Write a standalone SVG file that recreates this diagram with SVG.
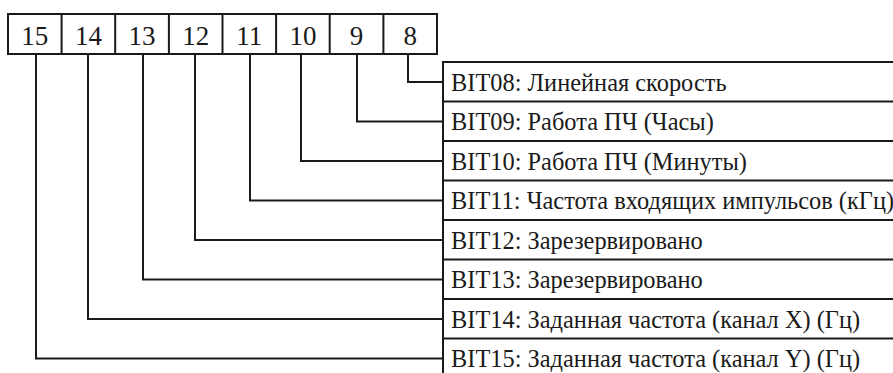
<svg xmlns="http://www.w3.org/2000/svg" width="893" height="373" viewBox="0 0 893 373">
<style>
.box{fill:#fff;stroke:#1a1a1a;stroke-width:2}
.ln{fill:none;stroke:#1a1a1a;stroke-width:2}
.num{font-family:"Liberation Serif","Times New Roman",serif;font-size:27px;fill:#1a1a1a;text-anchor:middle}
.lbl{font-family:"Liberation Serif","Times New Roman",serif;font-size:24.4px;fill:#1a1a1a}
</style>
<rect width="893" height="373" fill="#fff"/>
<g id="register">
<rect class="box" x="8" y="14" width="429" height="40"/>
<path class="ln" d="M61.6 14V54M115.2 14V54M168.9 14V54M222.5 14V54M276.1 14V54M329.7 14V54M383.4 14V54"/>
<text class="num" x="34.8" y="45">15</text>
<text class="num" x="88.4" y="45">14</text>
<text class="num" x="142.1" y="45">13</text>
<text class="num" x="195.7" y="45">12</text>
<text class="num" x="249.3" y="45">11</text>
<text class="num" x="302.9" y="45">10</text>
<text class="num" x="356.6" y="45">9</text>
<text class="num" x="410.2" y="45">8</text>
</g>
<g id="table">
<rect class="box" x="443" y="62" width="460" height="316"/>
<path class="ln" d="M443 101.5H900M443 141H900M443 180.5H900M443 220H900M443 259.5H900M443 299H900M443 338.5H900"/>
</g>
<g id="bit08"><text class="lbl" x="451" y="90.5">BIT08: Линейная скорость</text></g>
<g id="bit09"><text class="lbl" x="451" y="130">BIT09: Работа ПЧ (Часы)</text></g>
<g id="bit10"><text class="lbl" x="451" y="169.5">BIT10: Работа ПЧ (Минуты)</text></g>
<g id="bit11"><text class="lbl" x="451" y="209">BIT11: Частота входящих импульсов (кГц)</text></g>
<g id="bit12"><text class="lbl" x="451" y="248.5">BIT12: Зарезервировано</text></g>
<g id="bit13"><text class="lbl" x="451" y="288">BIT13: Зарезервировано</text></g>
<g id="bit14"><text class="lbl" x="451" y="327.5">BIT14: Заданная частота (канал X) (Гц)</text></g>
<g id="bit15"><text class="lbl" x="451" y="367">BIT15: Заданная частота (канал Y) (Гц)</text></g>
<g id="connectors">
<path class="ln" d="M408 54V82H443"/>
<path class="ln" d="M357 54V121.5H443"/>
<path class="ln" d="M301 54V161H443"/>
<path class="ln" d="M250 54V200.5H443"/>
<path class="ln" d="M195 54V240H443"/>
<path class="ln" d="M143 54V279.5H443"/>
<path class="ln" d="M88 54V319H443"/>
<path class="ln" d="M36 54V358.5H443"/>
</g>
</svg>
